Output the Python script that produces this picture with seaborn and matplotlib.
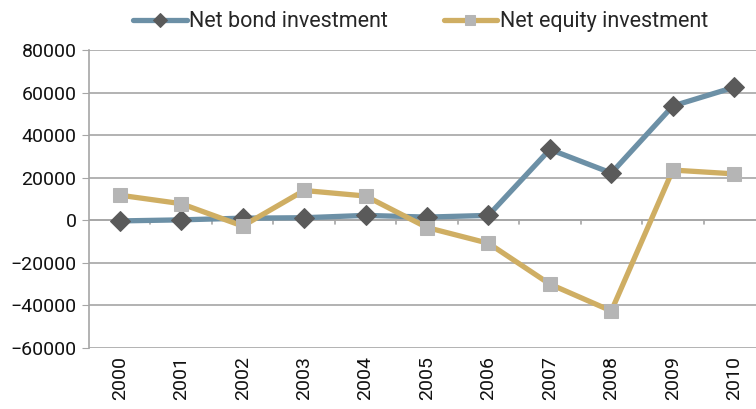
import matplotlib
matplotlib.use('Agg')
import matplotlib.pyplot as plt
import seaborn as sns
import pandas as pd

sns.set_style('white')
plt.rcParams['font.family'] = ['Roboto', 'DejaVu Sans']
plt.rcParams['font.size'] = 14

years = ['2000', '2001', '2002', '2003', '2004', '2005', '2006', '2007', '2008', '2009', '2010']
bond = [-300, 200, 1000, 1200, 2300, 1500, 2300, 33300, 22200, 53700, 62500]
equity = [11800, 7800, -2700, 14000, 11400, -3400, -10800, -30000, -42600, 23600, 21800]

df = pd.DataFrame({'year': years, 'bond': bond, 'equity': equity})

fig = plt.figure(figsize=(7.56, 4.09), dpi=100)
ax = fig.add_axes([89 / 756, 1 - 348 / 409, 676 / 756, 298 / 409])

grid_col = '#a6a6a6'
ax.set_ylim(-60000, 80000)
ax.set_yticks(range(-60000, 80001, 20000))
ax.yaxis.grid(True, color=grid_col, linewidth=1.2)
ax.set_axisbelow(True)

# zero line with little category ticks like excel
ax.axhline(0, color=grid_col, linewidth=1.2, zorder=1)
for b in range(1, 11):
    ax.plot([b - 0.5, b - 0.5], [0, -1900], color=grid_col, linewidth=1.2, zorder=1)

sns.lineplot(data=df, x='year', y='bond', ax=ax, color='#6c90a6', linewidth=3.8,
             marker='D', markersize=10, markerfacecolor='#5a5a5a',
             markeredgecolor='#5a5a5a', label='Net bond investment', zorder=3)
sns.lineplot(data=df, x='year', y='equity', ax=ax, color='#cfae63', linewidth=3.8,
             marker='s', markersize=10, markerfacecolor='#b5b5b5',
             markeredgecolor='#b5b5b5', label='Net equity investment', zorder=4)

ax.set_xlim(-0.5, 10.5)
ax.set_xlabel('')
ax.set_ylabel('')
for s in ['top', 'right', 'bottom']:
    ax.spines[s].set_visible(False)
ax.spines['left'].set_color(grid_col)
ax.spines['left'].set_linewidth(1.2)
ax.tick_params(axis='y', left=True, length=5, color=grid_col, labelsize=14, pad=4, labelcolor='#111111')
ax.tick_params(axis='x', bottom=False, length=0, labelsize=14, pad=6, labelcolor='#111111')
plt.setp(ax.get_xticklabels(), rotation=90)

leg = ax.legend(loc='lower center', bbox_to_anchor=(0.49, 1.03), ncol=2, frameon=False,
                fontsize=15.5, handlelength=2.5, handletextpad=0.1, columnspacing=2.6,
                borderaxespad=0.0, markerscale=0.75)

fig.savefig('out.png', dpi=100)
